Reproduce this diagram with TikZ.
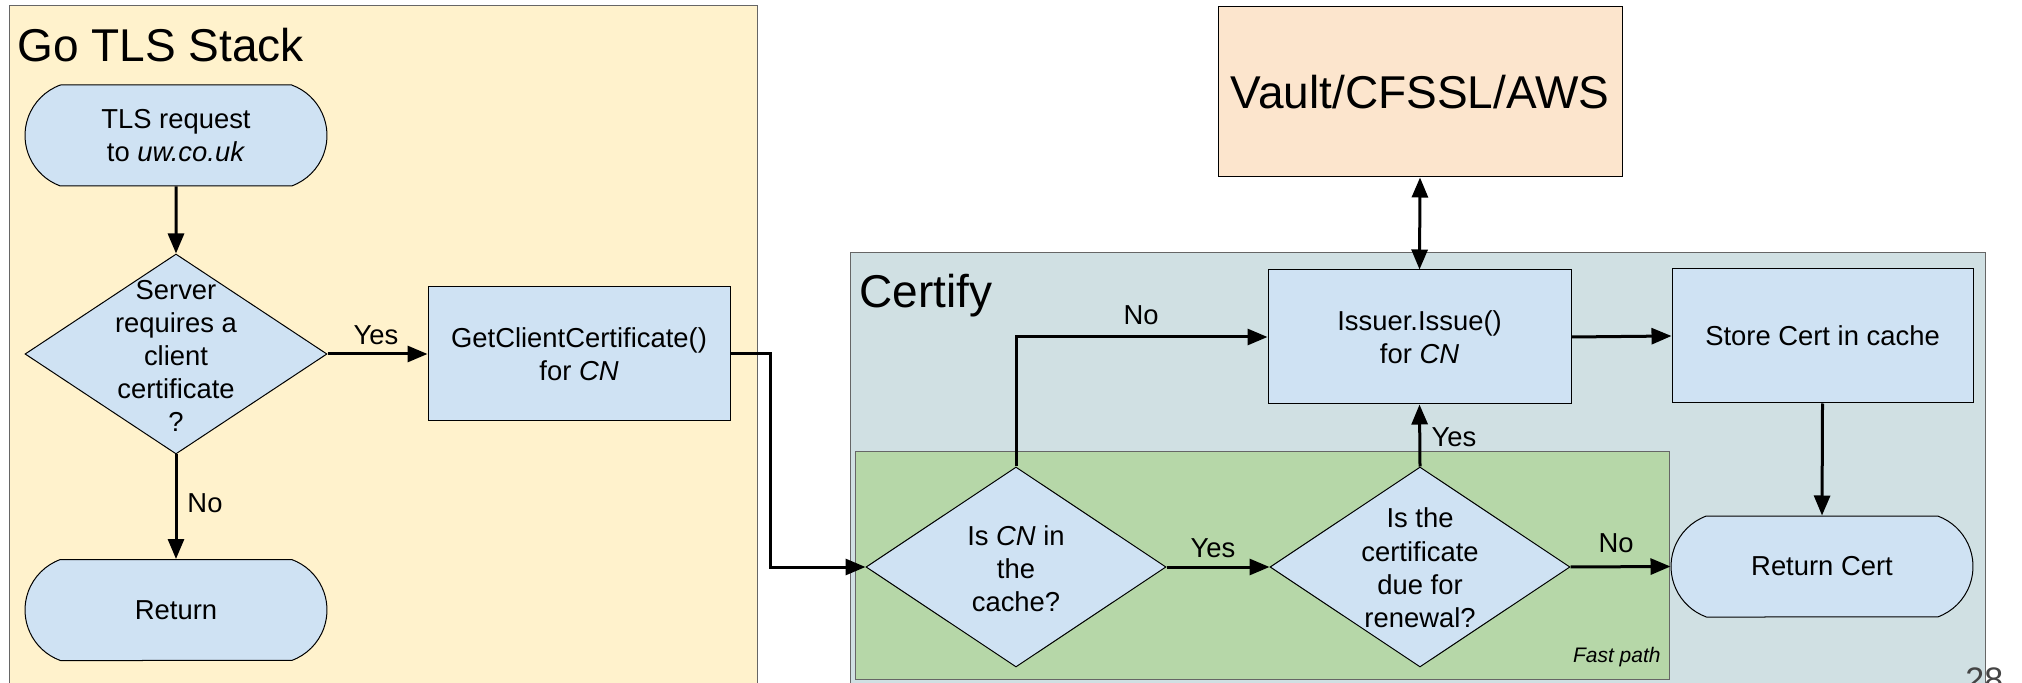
\documentclass[tikz,border=0pt]{standalone}
\usepackage{fontspec}
\setmainfont{Liberation Sans}
\usetikzlibrary{shapes.geometric,shapes.misc,arrows.meta}
\definecolor{goY}{HTML}{FFF2CC}
\definecolor{nodeB}{HTML}{CFE2F3}
\definecolor{certC}{HTML}{D0E0E3}
\definecolor{fastG}{HTML}{B6D7A8}
\definecolor{vaultO}{HTML}{FCE5CD}
\definecolor{panelLine}{HTML}{666666}
\definecolor{pageNum}{HTML}{444444}
\newcommand\myBody{\fontsize{13.7}{16.6}\selectfont}
\newcommand\myBig{\fontsize{23}{27.5}\selectfont}
\begin{document}
\begin{tikzpicture}[x=0.5pt,y=-0.5pt,
  panel/.style={draw=panelLine, line width=0.5pt},
  proc/.style={draw=black, line width=0.5pt, fill=nodeB, inner sep=0pt, align=center, font=\myBody},
  term/.style={rounded rectangle, rounded rectangle arc length=140, draw=black, line width=0.5pt, fill=nodeB, inner sep=0pt, align=center, font=\myBody, minimum width=151pt, minimum height=50.5pt},
  dec/.style={diamond, draw=black, line width=0.5pt, fill=nodeB, inner sep=0pt, minimum width=151pt, minimum height=100pt},
  dectext/.style={inner sep=0pt, align=center, font=\myBody},
  flow/.style={line width=1.5pt, -{Triangle[length=10pt,width=8pt]}},
  both/.style={line width=1.5pt, {Triangle[length=10pt,width=8pt]}-{Triangle[length=10pt,width=8pt]}},
  lbl/.style={inner sep=0pt, font=\myBody},
  title/.style={inner sep=0pt, font=\myBig, anchor=base west}
]
\useasboundingbox (0,0) rectangle (2022,683);
\clip (0,0) rectangle (2022,683);
\fill[white] (0,0) rectangle (2022,683);

% ---------- Go TLS Stack panel ----------
\draw[panel, fill=goY] (9,6) rectangle (757,700);
\node[title] (gotitle) at (17,62) {Go TLS Stack};

\node[term] (tls) at (176,135.5) {TLS request\\to \textit{uw.co.uk}};
\node[dec] (srv) at (176,354) {};
\node[dectext] (srvtxt) at (176,356) {Server\\requires a\\client\\certificate\\?};
\node[proc, minimum width=151pt, minimum height=67pt] (getc) at (579,354) {GetClientCertificate()\\for \textit{CN}};
\node[term] (ret) at (176,610) {Return};

\draw[flow] (tls) -- (srv);
\draw[flow] (srv.east) -- (getc.west);
\node[lbl] (yes1) at (376,335) {Yes};
\draw[flow] (srv.south) -- (ret.north);
\node[lbl] (no1) at (205,503) {No};

% ---------- Vault ----------
\node[proc, fill=vaultO, font=\myBig, minimum width=202pt, minimum height=85pt] (vault) at (1420,92) {Vault/CFSSL/AWS};

% ---------- Certify panel ----------
\draw[panel, fill=certC] (850,253) rectangle (1985,700);
\node[title] (certtitle) at (859,308) {Certify};

\draw[panel, fill=fastG] (855,452) rectangle (1669,679);
\node[inner sep=0pt, anchor=east, font=\fontsize{10.5}{12}\selectfont\itshape] (fast) at (1661,657) {Fast path};

\node[proc, minimum width=151.5pt, minimum height=67pt] (iss) at (1419.5,337) {Issuer.Issue()\\for \textit{CN}};
\node[proc, minimum width=150.5pt, minimum height=67pt] (store) at (1822.5,336) {Store Cert in cache};

\node[dec, minimum width=150pt] (d1) at (1016,567) {};
\node[dectext] (d1txt) at (1016,569) {Is \textit{CN} in\\the\\cache?};
\node[dec, minimum width=150pt] (d2) at (1420,567) {};
\node[dectext] (d2txt) at (1420,568) {Is the\\certificate\\due for\\renewal?};
\node[term] (rcert) at (1822,566.5) {Return Cert};

\coordinate (bend) at (770,460);
\draw[line width=1.5pt, -{Triangle[length=10pt,width=8pt]}] (getc.east) -| (bend) |- (d1.west);

\draw[both] (vault.south) -- (iss.north);
\draw[flow] (d1.north) |- (iss.west);
\node[lbl] (no2) at (1141,315) {No};
\draw[flow] (d1.east) -- (d2.west);
\node[lbl] (yes2) at (1213,548) {Yes};
\draw[flow] (d2.north) -- (iss.south);
\node[lbl] (yes3) at (1454,437) {Yes};
\draw[flow] (d2.east) -- (rcert.west);
\node[lbl] (no3) at (1616,543) {No};
\draw[flow] (iss.east) -- (store.west);
\draw[flow] (store.south) -- (rcert.north);

\node[inner sep=0pt, anchor=north west, text=pageNum, font=\fontsize{17}{20}\selectfont] (pnum) at (1965,667) {28};
\end{tikzpicture}
\end{document}
